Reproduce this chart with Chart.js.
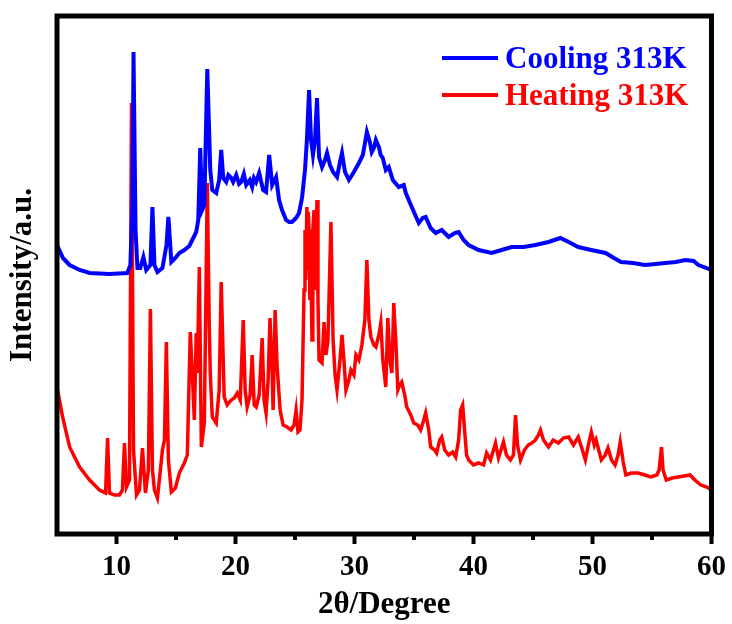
<!DOCTYPE html>
<html>
<head>
<meta charset="utf-8">
<script src="https://cdn.jsdelivr.net/npm/chart.js@4.4.1/dist/chart.umd.min.js"></script>
<style>
  html, body { margin: 0; padding: 0; background: #fff; }
  #wrap { width: 732px; height: 624px; }
</style>
</head>
<body>
<div id="wrap"><canvas id="xrdChart" width="732" height="624"></canvas></div>
<script>
// 2theta positions and intensities (a.u.)
const coolingX = [5.0, 5.5, 6.06, 6.9, 7.74, 9.4, 10.9, 11.17, 11.34, 11.43, 11.6, 11.76, 12.0, 12.26, 12.5, 12.85, 13.02, 13.19, 13.44, 13.86,
  14.2, 14.36, 14.61, 14.95, 15.28, 15.7, 16.12, 16.45, 16.7, 16.87, 17.04, 17.2, 17.38, 17.63, 17.88, 18.05, 18.38, 18.63, 18.8, 18.97,
  19.22, 19.4, 19.64, 19.8, 20.06, 20.3, 20.48, 20.7, 20.9, 21.2, 21.4, 21.55, 21.73, 21.99, 22.32, 22.57, 22.83, 23.08, 23.41, 23.66,
  23.91, 24.25, 24.5, 24.75, 25.09, 25.34, 25.59, 25.84, 26.0, 26.18, 26.35, 26.51, 26.68, 26.85, 27.02, 27.27, 27.52, 27.69, 27.94, 28.2,
  28.53, 28.78, 28.95, 29.2, 29.53, 29.95, 30.37, 30.7, 31.04, 31.29, 31.45, 31.63, 31.8, 32.05, 32.2, 32.38, 32.63, 32.88, 33.22, 33.72,
  34.14, 34.31, 34.81, 35.4, 35.73, 35.98, 36.4, 36.82, 37.33, 37.91, 38.42, 38.75, 39.17, 39.59, 40.43, 41.52, 42.36, 43.2, 44.2, 45.2,
  46.3, 47.3, 48.0, 48.8, 49.9, 51.1, 51.8, 52.4, 53.4, 54.4, 55.3, 56.1, 57.0, 57.8, 58.5, 58.9, 60.0];
const coolingY = [285, 272, 265, 260, 257, 256, 257, 265, 330, 478, 300, 262, 262, 273, 260, 265, 323, 265, 258, 262,
  285, 313, 268, 272, 277, 280, 284, 292, 298, 310, 382, 320, 325, 461, 360, 340, 337, 350, 380, 352,
  348, 355, 352, 348, 355, 346, 348, 356, 345, 350, 343, 352, 348, 357, 340, 338, 375, 345, 353, 330,
  320, 310, 308, 308, 312, 317, 332, 360, 390, 440, 390, 375, 390, 432, 373, 363, 370, 377, 365, 358,
  353, 368, 377, 358, 350, 358, 367, 375, 398, 388, 378, 382, 390, 383, 375, 372, 360, 363, 350, 343,
  345, 337, 323, 307, 312, 313, 302, 297, 300, 293, 297, 298, 290, 285, 280, 277, 280, 283, 283, 285,
  288, 292, 288, 283, 280, 277, 272, 268, 267, 265, 266, 267, 268, 270, 269, 265, 260];

const heatingX = [5.05, 5.47, 6.06, 6.9, 7.74, 8.57, 9.08, 9.25, 9.41, 9.83, 10.25, 10.5, 10.67, 10.84, 11.09, 11.26, 11.43, 11.68, 11.93, 12.18,
  12.43, 12.68, 12.85, 13.02, 13.19, 13.44, 13.69, 13.86, 14.03, 14.19, 14.36, 14.61, 14.95, 15.28, 15.7, 15.95, 16.2, 16.37, 16.54, 16.7,
  16.79, 16.96, 17.13, 17.38, 17.63, 17.8, 17.88, 18.05, 18.38, 18.63, 18.8, 19.05, 19.3, 19.64, 19.9, 20.15, 20.4, 20.65, 20.81, 20.98,
  21.23, 21.4, 21.57, 21.74, 21.99, 22.24, 22.4, 22.57, 22.74, 22.9, 23.08, 23.16, 23.33, 23.5, 23.75, 24.0, 24.33, 24.67, 24.92, 25.09,
  25.25, 25.42, 25.59, 25.76, 25.84, 25.9, 26.0, 26.06, 26.12, 26.18, 26.25, 26.3, 26.35, 26.43, 26.5, 26.6, 26.68, 26.76, 26.85, 26.93,
  27.02, 27.27, 27.44, 27.6, 27.77, 28.02, 28.2, 28.37,
  28.53, 28.78, 28.95, 29.11, 29.28, 29.53, 29.7, 29.95, 30.12, 30.37, 30.62, 30.87, 31.04, 31.21, 31.38, 31.63, 31.8, 32.05, 32.21, 32.38,
  32.63, 32.8, 32.97, 33.14, 33.3, 33.47, 33.64, 33.8, 33.97, 34.22, 34.39, 34.73, 34.98, 35.31, 35.56, 35.82, 35.98, 36.24, 36.4, 36.74,
  36.9, 37.16, 37.33, 37.58, 37.91, 38.25, 38.5, 38.75, 38.92, 39.09, 39.25, 39.42, 39.59, 40.0, 40.43, 40.85, 41.1, 41.43, 41.85, 42.1,
  42.52, 42.77, 43.1, 43.36, 43.53, 43.7, 43.95, 44.28, 44.6, 44.9, 45.2, 45.46, 45.63, 45.88, 46.3, 46.7, 47.13, 47.55, 48.0, 48.4,
  48.8, 49.15, 49.4, 49.65, 49.9, 50.15, 50.3, 50.74, 51.07, 51.3, 51.6, 51.9, 52.15, 52.33, 52.58, 52.8, 53.25, 53.84, 54.4, 54.9,
  55.4, 55.6, 55.8, 55.93, 56.2, 56.7, 57.2, 57.7, 58.2, 58.6, 59.1, 59.6, 60.0];
const heatingY = [140, 113, 83, 63, 50, 40, 37, 92, 37, 35, 35, 40, 87, 43, 50, 427, 80, 35, 40, 82,
  37, 60, 221, 60, 40, 32, 60, 80, 90, 188, 70, 38, 42, 57, 67, 75, 198, 157, 110, 197,
  157, 263, 83, 107, 347, 200, 157, 113, 107, 140, 248, 133, 125, 130, 132, 137, 130, 210, 140, 123,
  135, 175, 125, 123, 135, 192, 130, 117, 150, 212, 157, 120, 220, 163, 120, 105, 103, 100, 105, 120,
  98, 100, 130, 240, 300, 250, 323, 260, 318, 300, 230, 290, 250, 190, 300, 320, 240, 290, 330, 230,
  170, 167, 208, 175, 190, 308, 190, 155,
  140, 170, 195, 170, 140, 150, 160, 155, 175, 170, 185, 210, 270, 210, 193, 185, 183, 195, 207, 170,
  143, 212, 170, 157, 227, 190, 140, 145, 148, 135, 123, 115, 107, 105, 100, 110, 117, 100, 83, 80,
  77, 90, 93, 80, 75, 78, 73, 90, 120, 125, 100, 75, 70, 65, 67, 65, 77, 70, 87, 72,
  88, 75, 70, 75, 115, 85, 70, 80, 85, 87, 90, 95, 100, 90, 83, 90, 87, 92, 93, 85,
  93, 80, 70, 85, 98, 85, 90, 70, 75, 82, 70, 65, 75, 88, 68, 55, 57, 57, 55, 53,
  55, 60, 83, 60, 50, 52, 53, 54, 55, 50, 45, 43, 40];

const xTicks = [10, 20, 30, 40, 50, 60];
const xMinorTicks = [15, 25, 35, 45, 55];

const serif = '"Liberation Serif", "Times New Roman", serif';

function toPoints(xs, ys) {
  return xs.map((x, i) => ({ x: x, y: ys[i] }));
}

// frame round the plot, minor ticks and the legend inside the plot
const framePlugin = {
  id: 'frame',
  afterDraw(chart) {
    const ctx = chart.ctx;
    const a = chart.chartArea;
    const xs = chart.scales.x;
    ctx.save();
    ctx.strokeStyle = '#000';
    ctx.lineWidth = 5;
    ctx.strokeRect(a.left, a.top, a.right - a.left, a.bottom - a.top);

    ctx.lineWidth = 4;
    xMinorTicks.forEach(v => {
      const px = xs.getPixelForValue(v);
      ctx.beginPath();
      ctx.moveTo(px, a.bottom);
      ctx.lineTo(px, a.bottom + 6);
      ctx.stroke();
    });

    // legend
    ctx.font = 'bold 31px ' + serif;
    ctx.textBaseline = 'alphabetic';
    ctx.textAlign = 'left';
    chart.data.datasets.forEach((ds, i) => {
      const y = 58 + i * 37;
      ctx.strokeStyle = ds.borderColor;
      ctx.lineWidth = 4;
      ctx.beginPath();
      ctx.moveTo(442, y);
      ctx.lineTo(498, y);
      ctx.stroke();
      ctx.fillStyle = ds.borderColor;
      ctx.fillText(ds.label, 505, y + 10);
    });
    ctx.restore();
  }
};

window.onload = () => {
  const ctx = document.getElementById('xrdChart').getContext('2d');
  new Chart(ctx, {
    type: 'line',
    data: {
      datasets: [{
        label: 'Cooling 313K',
        data: toPoints(coolingX, coolingY),
        borderColor: '#0000ff',
        borderWidth: 4,
        pointRadius: 0,
        tension: 0
      }, {
        label: 'Heating 313K',
        data: toPoints(heatingX, heatingY),
        borderColor: '#ff0000',
        borderWidth: 3.5,
        pointRadius: 0,
        tension: 0
      }]
    },
    options: {
      responsive: false,
      animation: false,
      events: [],
      layout: { padding: { top: 16, right: 18, left: 0, bottom: 0 } },
      plugins: {
        legend: { display: false },
        tooltip: { enabled: false }
      },
      scales: {
        x: {
          type: 'linear',
          min: 5,
          max: 60,
          afterBuildTicks: scale => { scale.ticks = xTicks.map(v => ({ value: v })); },
          afterFit: scale => { scale.height = 90; },
          border: { display: false },
          grid: {
            display: true,
            drawOnChartArea: false,
            drawTicks: true,
            tickLength: 10,
            tickWidth: 4,
            tickColor: '#000'
          },
          ticks: {
            color: '#000',
            padding: 6,
            maxRotation: 0,
            font: { family: serif, size: 29, weight: 'bold' }
          },
          title: {
            display: true,
            text: '2θ/Degree',
            color: '#000',
            padding: { top: 0, bottom: 0 },
            font: { family: serif, size: 31, weight: 'bold' }
          }
        },
        y: {
          type: 'linear',
          min: -4,
          max: 514,
          afterFit: scale => { scale.width = 57; },
          border: { display: false },
          grid: { display: false },
          ticks: { display: false },
          title: {
            display: true,
            text: 'Intensity/a.u.',
            color: '#000',
            padding: { top: 4, bottom: 0 },
            font: { family: serif, size: 31, weight: 'bold' }
          }
        }
      }
    },
    plugins: [framePlugin]
  });
};
</script>
</body>
</html>
